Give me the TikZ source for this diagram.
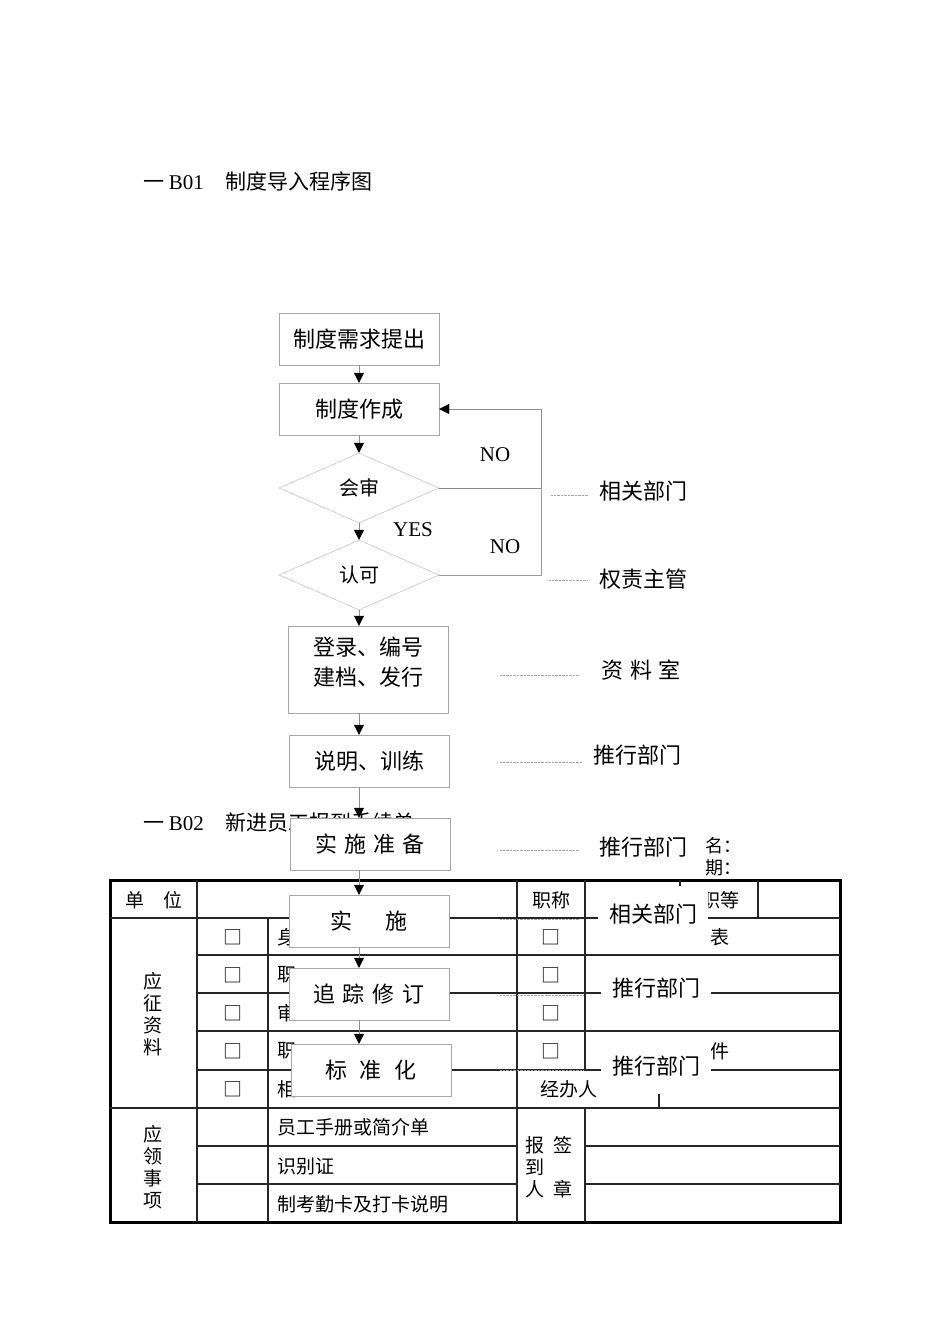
\documentclass[tikz,border=0pt]{standalone}
\usepackage{fontspec}
\setmainfont{Noto Sans CJK SC}
\newfontfamily\latin{Liberation Serif}
\usetikzlibrary{arrows.meta,shapes.geometric}

\tikzset{
  stepbox/.style={draw=black!35,fill=white,inner sep=0pt,minimum width=160pt,minimum height=52pt,font=\fontsize{22}{30}\selectfont},
  testbox/.style={diamond,draw=black!30,inner sep=0pt,minimum width=160pt,minimum height=70pt,font=\fontsize{20}{24}\selectfont},
  deptbox/.style={fill=white,inner sep=0pt,minimum width=110pt,minimum height=56pt,font=\fontsize{22}{26}\selectfont},
  flow/.style={draw=black!45,-{Triangle[width=10pt,length=10pt,black]}},
  loopline/.style={draw=black!40},
  lead/.style={draw=black!35,densely dotted},
  grid/.style={draw=black!85,line width=1.1pt},
  cell/.style={inner sep=0pt,font=\fontsize{19}{22}\selectfont},
  word/.style={inner sep=0pt,font=\latin\fontsize{21}{24}\selectfont},
}

\begin{document}
\begin{tikzpicture}[x=1pt,y=-1pt]
  \useasboundingbox (0,0) rectangle (950,1344);

  % titles
  \node[anchor=west,inner sep=0pt,font=\fontsize{21}{24}\selectfont] (title1) at (143,181) {一 {\latin B01}\hspace{22pt}制度导入程序图};
  \node[anchor=west,inner sep=0pt,font=\fontsize{21}{24}\selectfont] (title2) at (143,823) {一 {\latin B02}\hspace{22pt}新进员工报到手续单};
  \node[anchor=west,inner sep=0pt,font=\fontsize{18}{20}\selectfont] (sign) at (705,846) {名：};
  \node[anchor=west,inner sep=0pt,font=\fontsize{18}{20}\selectfont] (date) at (705,868) {期：};

  % form
  \draw[line width=3pt] (110,880) rectangle (840,1222);
  \draw[grid] (110,918) -- (840,918);
  \foreach \y in {955,993,1031,1070}
    \draw[grid] (197,\y) -- (840,\y);
  \draw[grid,line width=1.6pt] (110,1108) -- (840,1108);
  \foreach \y in {1146,1184} {
    \draw[grid] (197,\y) -- (517,\y);
    \draw[grid] (585,\y) -- (840,\y);
  }
  \draw[grid] (197,880) -- (197,1222);
  \draw[grid] (268,918) -- (268,1222);
  \draw[grid] (517,880) -- (517,1222);
  \draw[grid] (585,880) -- (585,1070);
  \draw[grid] (585,1108) -- (585,1222);
  \draw[grid] (680,880) -- (680,918);
  \draw[grid] (758,880) -- (758,918);
  \draw[grid] (659,1070) -- (659,1108);

  \node[cell] (unit) at (154,900) {单　位};
  \node[cell] (rank) at (551,900) {职称};
  \node[cell] (grade) at (720,900) {职等};
  \node[cell,align=center] (apply) at (153,1014) {应\\征\\资\\料};
  \node[cell,align=center] (receive) at (153,1167) {应\\领\\事\\项};
  \node[cell,align=center] (arrive) at (535,1167) {报\\到\\人};
  \node[cell,align=center] (seal) at (563,1167) {签\\[21.7pt]章};
  \foreach \y in {937,975,1013,1051,1089}
    \node[cell] (boxa\y) at (233,\y) {□};
  \foreach \y in {937,975,1013,1051}
    \node[cell] (boxb\y) at (551,\y) {□};
  \node[cell,anchor=west] (doca) at (277,937) {身};
  \node[cell,anchor=west] (docb) at (277,975) {职};
  \node[cell,anchor=west] (docc) at (277,1013) {审};
  \node[cell,anchor=west] (docd) at (277,1051) {职};
  \node[cell,anchor=west] (doce) at (277,1089) {相};
  \node[cell] (docf) at (720,937) {表};
  \node[cell] (docg) at (720,1051) {件};
  \node[cell,anchor=west] (agent) at (540,1089) {经办人};
  \node[cell,anchor=west] (give1) at (277,1127) {员工手册或简介单};
  \node[cell,anchor=west] (give2) at (277,1166) {识别证};
  \node[cell,anchor=west] (give3) at (277,1204) {制考勤卡及打卡说明};

  % procedure
  \node[stepbox] (req) at (359,339) {制度需求提出};
  \node[stepbox] (draft) at (359,409) {制度作成};
  \node[testbox] (review) at (359,488) {会审};
  \node[testbox] (approve) at (359,575) {认可};
  \node[stepbox,minimum height=87pt,text depth=17pt,align=center] (issue) at (368,669.5) {登录、编号\\建档、发行};
  \node[stepbox] (train) at (369,761) {说明、训练};
  \node[stepbox] (prep) at (370,844) {实\hspace{7pt}施\hspace{7pt}准\hspace{7pt}备};
  \node[stepbox] (run) at (369,921) {实\hspace{34pt}施};
  \node[stepbox] (track) at (369,994) {追\hspace{8pt}踪\hspace{8pt}修\hspace{8pt}订};
  \node[stepbox] (std) at (371,1070) {标\hspace{13pt}准\hspace{13pt}化};

  \coordinate (axis) at (359,0);
  \coordinate (bend) at (541,0);
  \draw[flow] (req) -- (draft);
  \draw[flow] (draft) -- (review);
  \draw[flow] (review) -- (approve);
  \draw[flow] (approve.south) -- (axis |- issue.north);
  \draw[flow] (axis |- issue.south) -- (axis |- train.north);
  \draw[flow] (axis |- train.south) -- (axis |- prep.north);
  \draw[flow] (axis |- prep.south) -- (axis |- run.north);
  \draw[flow] (axis |- run.south) -- (axis |- track.north);
  \draw[flow] (axis |- track.south) -- (axis |- std.north);
  \draw[flow] (review.east) -- (bend |- review.east) -- (bend |- draft.east) -- (draft.east);
  \draw[loopline] (approve.east) -- (bend |- approve.east) -- (bend |- review.east);

  \node[word] (no1) at (495,455) {NO};
  \node[word] (yes) at (413,530) {YES};
  \node[word] (no2) at (505,547) {NO};

  % departments
  \node[deptbox] (dept1) at (643,491) {相关部门};
  \node[deptbox] (dept2) at (643,579) {权责主管};
  \node[deptbox] (dept3) at (641,670) {资\hspace{7pt}料\hspace{7pt}室};
  \node[deptbox] (dept4) at (637,755) {推行部门};
  \node[deptbox] (dept5) at (643,847) {推行部门};
  \node[deptbox] (dept6) at (653,914) {相关部门};
  \node[deptbox] (dept7) at (656,988) {推行部门};
  \node[deptbox] (dept8) at (656,1066) {推行部门};

  \coordinate (lead1) at (551,495);
  \coordinate (lead2) at (549,580);
  \coordinate (lead3) at (500,675);
  \coordinate (lead4) at (500,762);
  \coordinate (lead5) at (500,850);
  \coordinate (lead6) at (500,919);
  \coordinate (lead7) at (500,995);
  \coordinate (lead8) at (500,1070);
  \draw[lead] (lead1) -- (lead1 -| dept1.west);
  \draw[lead] (lead2) -- (lead2 -| dept2.west);
  \draw[lead,shorten >=6pt] (lead3) -- (lead3 -| dept3.west);
  \draw[lead] (lead4) -- (lead4 -| dept4.west);
  \draw[lead,shorten >=8pt] (lead5) -- (lead5 -| dept5.west);
  \draw[lead,shorten >=18pt] (lead6) -- (lead6 -| dept6.west);
  \draw[lead,shorten >=18pt] (lead7) -- (lead7 -| dept7.west);
  \draw[lead,shorten >=18pt] (lead8) -- (lead8 -| dept8.west);
\end{tikzpicture}
\end{document}
